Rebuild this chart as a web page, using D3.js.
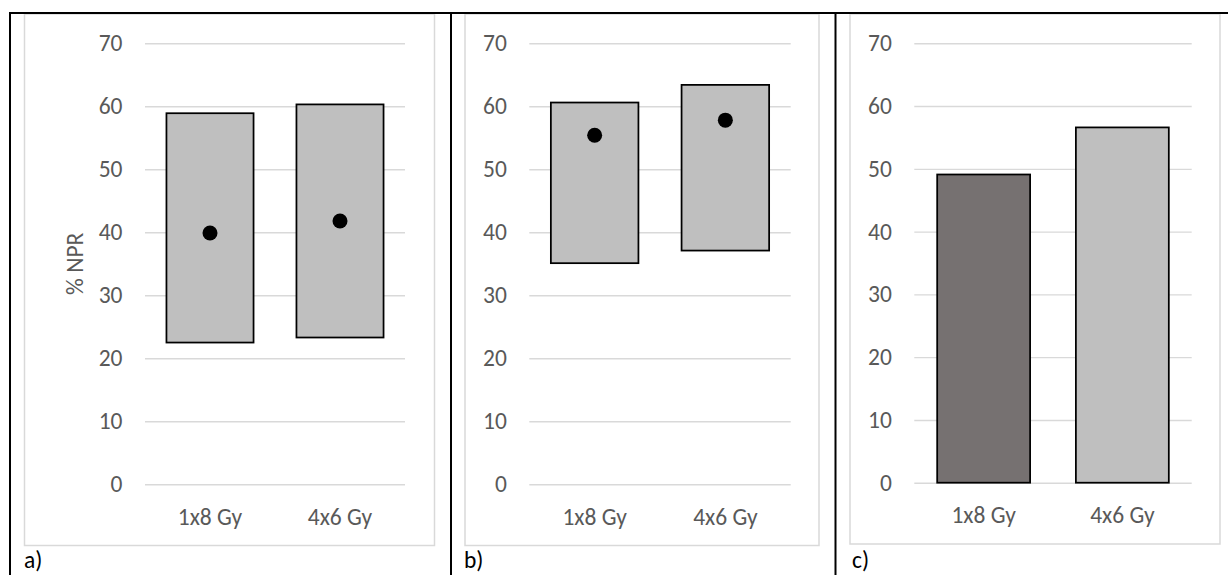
<!DOCTYPE html>
<html>
<head>
<meta charset="utf-8">
<script src="https://cdn.jsdelivr.net/npm/d3@7"></script>
<style>
  html, body { margin: 0; padding: 0; background: #fff; }
  svg { display: block; }
</style>
</head>
<body>
<svg id="fig" width="1228" height="575"></svg>
<script>
// Categories and axis ticks shared by all three panels
const categories = ["1x8 Gy", "4x6 Gy"];
const yTicks = [0, 10, 20, 30, 40, 50, 60, 70];

// Panel a: floating range bars with a central marker
const rangeLowA = [22.5, 23.3];
const rangeHighA = [58.9, 60.3];
const markerA = [39.9, 41.8];

// Panel b: floating range bars with a central marker
const rangeLowB = [35.1, 37.1];
const rangeHighB = [60.6, 63.4];
const markerB = [55.4, 57.8];

// Panel c: plain bars
const valuesC = [49.1, 56.6];
const colorsC = ["#767171", "#bfbfbf"];

const panelLabels = ["a)", "b)", "c)"];

const FONT = "Carlito, Calibri, Lato, 'Liberation Sans', sans-serif";
const FS = 23.5;
const TEXT = "#595959";
const GRID = "#d9d9d9";

const svg = d3.select("#fig");

function drawPanel(p) {
  const g = svg.append("g");

  // chart frame
  g.append("rect")
    .attr("x", p.frame[0]).attr("y", p.frame[1])
    .attr("width", p.frame[2] - p.frame[0])
    .attr("height", p.frame[3] - p.frame[1])
    .attr("fill", "#fff").attr("stroke", GRID).attr("stroke-width", 1.5);

  const x = d3.scaleBand().domain(categories)
    .range([p.plot[0], p.plot[1]])
    .paddingInner(0.33).paddingOuter(0.165);
  const y = d3.scaleLinear().domain([0, 70]).range([p.plot[3], p.plot[2]]);
  const W = p.plot[1] - p.plot[0];

  // y axis with gridlines
  const ya = g.append("g").attr("transform", `translate(${p.plot[0]},0)`)
    .call(d3.axisLeft(y).tickValues(yTicks).tickSize(-W).tickPadding(22.5));
  ya.select(".domain").remove();
  ya.selectAll(".tick line").attr("stroke", GRID).attr("stroke-width", 1.4);
  ya.selectAll(".tick text").attr("fill", TEXT).attr("font-size", FS)
    .attr("font-family", FONT);

  // x axis labels
  const xa = g.append("g").attr("transform", `translate(0,${p.plot[3]})`)
    .call(d3.axisBottom(x).tickSize(0).tickPadding(24));
  xa.select(".domain").remove();
  xa.selectAll(".tick text").attr("fill", TEXT).attr("font-size", FS)
    .attr("font-family", FONT);

  // bars
  g.selectAll("rect.bar").data(categories).join("rect")
    .attr("class", "bar")
    .attr("x", d => x(d))
    .attr("width", x.bandwidth())
    .attr("y", (d, i) => y(p.high[i]))
    .attr("height", (d, i) => y(p.low[i]) - y(p.high[i]))
    .attr("fill", (d, i) => p.fill[i])
    .attr("stroke", "#000").attr("stroke-width", 1.75);

  // markers
  if (p.marker) {
    g.selectAll("circle.mk").data(categories).join("circle")
      .attr("class", "mk")
      .attr("cx", d => x(d) + x.bandwidth() / 2)
      .attr("cy", (d, i) => y(p.marker[i]))
      .attr("r", 7.5).attr("fill", "#000");
  }

  if (p.ylabel) {
    g.append("text")
      .attr("transform", `translate(${p.ylabelX},${(p.plot[2] + p.plot[3]) / 2}) rotate(-90)`)
      .attr("text-anchor", "middle")
      .attr("fill", TEXT).attr("font-size", FS).attr("font-family", FONT)
      .text(p.ylabel);
  }

  // panel letter
  svg.append("text")
    .attr("x", p.labelX).attr("y", 568)
    .attr("fill", "#000").attr("font-size", FS).attr("font-family", FONT)
    .text(p.label);
}

drawPanel({
  frame: [24.5, 14, 434.5, 545.5],
  plot: [145, 405, 43.3, 484.3],
  low: rangeLowA, high: rangeHighA, marker: markerA,
  fill: ["#bfbfbf", "#bfbfbf"],
  ylabel: "% NPR", ylabelX: 83,
  label: panelLabels[0], labelX: 24
});

drawPanel({
  frame: [465, 14, 819, 545.5],
  plot: [529.3, 790.7, 43.3, 484.3],
  low: rangeLowB, high: rangeHighB, marker: markerB,
  fill: ["#bfbfbf", "#bfbfbf"],
  label: panelLabels[1], labelX: 464
});

drawPanel({
  frame: [850, 14, 1220, 544],
  plot: [914.3, 1191.7, 43.3, 482.7],
  low: [0, 0], high: valuesC,
  fill: colorsC,
  label: panelLabels[2], labelX: 852
});

// surrounding table rules
const rules = svg.append("g").attr("stroke", "#000").attr("stroke-width", 2);
rules.append("line").attr("x1", 9).attr("x2", 1228).attr("y1", 13).attr("y2", 13);
[10, 451, 835.5].forEach(v =>
  rules.append("line").attr("x1", v).attr("x2", v).attr("y1", 12).attr("y2", 575));
</script>
</body>
</html>
